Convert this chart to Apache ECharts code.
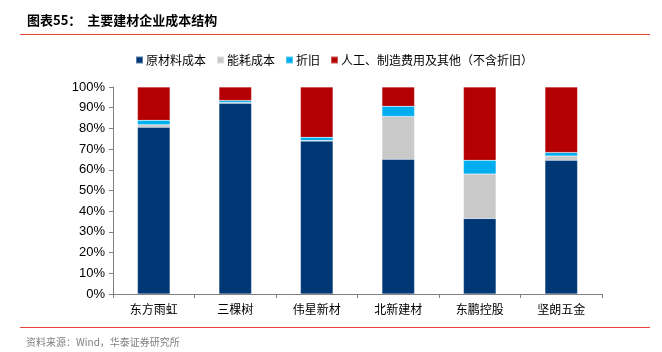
<!DOCTYPE html>
<html>
<head>
<meta charset="utf-8">
<script src="https://cdn.jsdelivr.net/npm/echarts@6/dist/echarts.min.js"></script>
<style>
  html, body { margin: 0; padding: 0; background: #fff; }
  #wrap { position: relative; width: 662px; height: 352px; }
  #chart { position: absolute; left: 0; top: 0; width: 662px; height: 352px; }
</style>
</head>
<body>
<div id="wrap"><div id="chart"></div></div>
<script>
// 公司
const companies = ["东方雨虹", "三棵树", "伟星新材", "北新建材", "东鹏控股", "坚朗五金"];
// 各成本项占比(%)
const rawMaterial = [80.6, 92.2, 73.9, 65.1, 36.5, 64.6];
const energy = [1.2, 0.3, 0.2, 20.7, 21.5, 2.1];
const depreciation = [2.1, 1.0, 1.6, 4.9, 6.6, 1.7];
const others = [16.1, 6.5, 24.3, 9.3, 35.4, 31.6];
const seriesNames = ["原材料成本", "能耗成本", "折旧", "人工、制造费用及其他（不含折旧）"];
const colors = ["#003876", "#C9C9C9", "#00AEEF", "#B40000"];

const chart = echarts.init(document.getElementById("chart"));

const cjk = "'Noto Sans CJK SC', sans-serif";
const makeSeries = (name, data) => ({
  name: name,
  type: "bar",
  stack: "cost",
  barWidth: "40%",
  data: data,
  itemStyle: { borderColor: "rgba(255,255,255,0.35)", borderWidth: 0.5 }
});

chart.setOption({
  animation: false,
  color: colors,
  title: {
    text: "图表55：  主要建材企业成本结构",
    left: 22, top: 9,
    textStyle: { fontFamily: cjk, fontSize: 13, fontWeight: "bold", color: "#000" }
  },
  legend: {
    top: 49, left: 130,
    itemWidth: 7, itemHeight: 7, itemGap: 10,
    icon: "rect",
    textStyle: { fontFamily: cjk, fontSize: 12, color: "#000", padding: [0, 0, 0, -2] },
    data: seriesNames
  },
  grid: { left: 113, right: 60, top: 87, bottom: 58 },
  xAxis: {
    type: "category",
    data: companies,
    axisLine: { lineStyle: { color: "#808080" } },
    axisTick: { show: true, alignWithLabel: false, length: 4, lineStyle: { color: "#808080" } },
    axisLabel: { fontFamily: cjk, fontSize: 12, color: "#000", margin: 9 }
  },
  yAxis: {
    type: "value",
    min: 0, max: 100, interval: 10,
    splitLine: { show: false },
    axisLine: { show: true, lineStyle: { color: "#808080" } },
    axisTick: { show: true, length: 4, lineStyle: { color: "#808080" } },
    axisLabel: { formatter: "{value}%", fontFamily: "'Liberation Sans', Arial, sans-serif", fontSize: 13, color: "#000", margin: 8 }
  },
  series: [
    makeSeries(seriesNames[0], rawMaterial),
    makeSeries(seriesNames[1], energy),
    makeSeries(seriesNames[2], depreciation),
    makeSeries(seriesNames[3], others)
  ],
  graphic: [
    { type: "line", shape: { x1: 20, y1: 34.5, x2: 650, y2: 34.5 }, style: { stroke: "#E8463A", lineWidth: 1 } },
    { type: "line", shape: { x1: 20, y1: 327.5, x2: 650, y2: 327.5 }, style: { stroke: "#E8463A", lineWidth: 1 } },
    { type: "text", left: 26, top: 337, style: { text: "资料来源：Wind，华泰证券研究所", fontFamily: cjk, fontSize: 10, fill: "#808080" } }
  ]
});
</script>
</body>
</html>
